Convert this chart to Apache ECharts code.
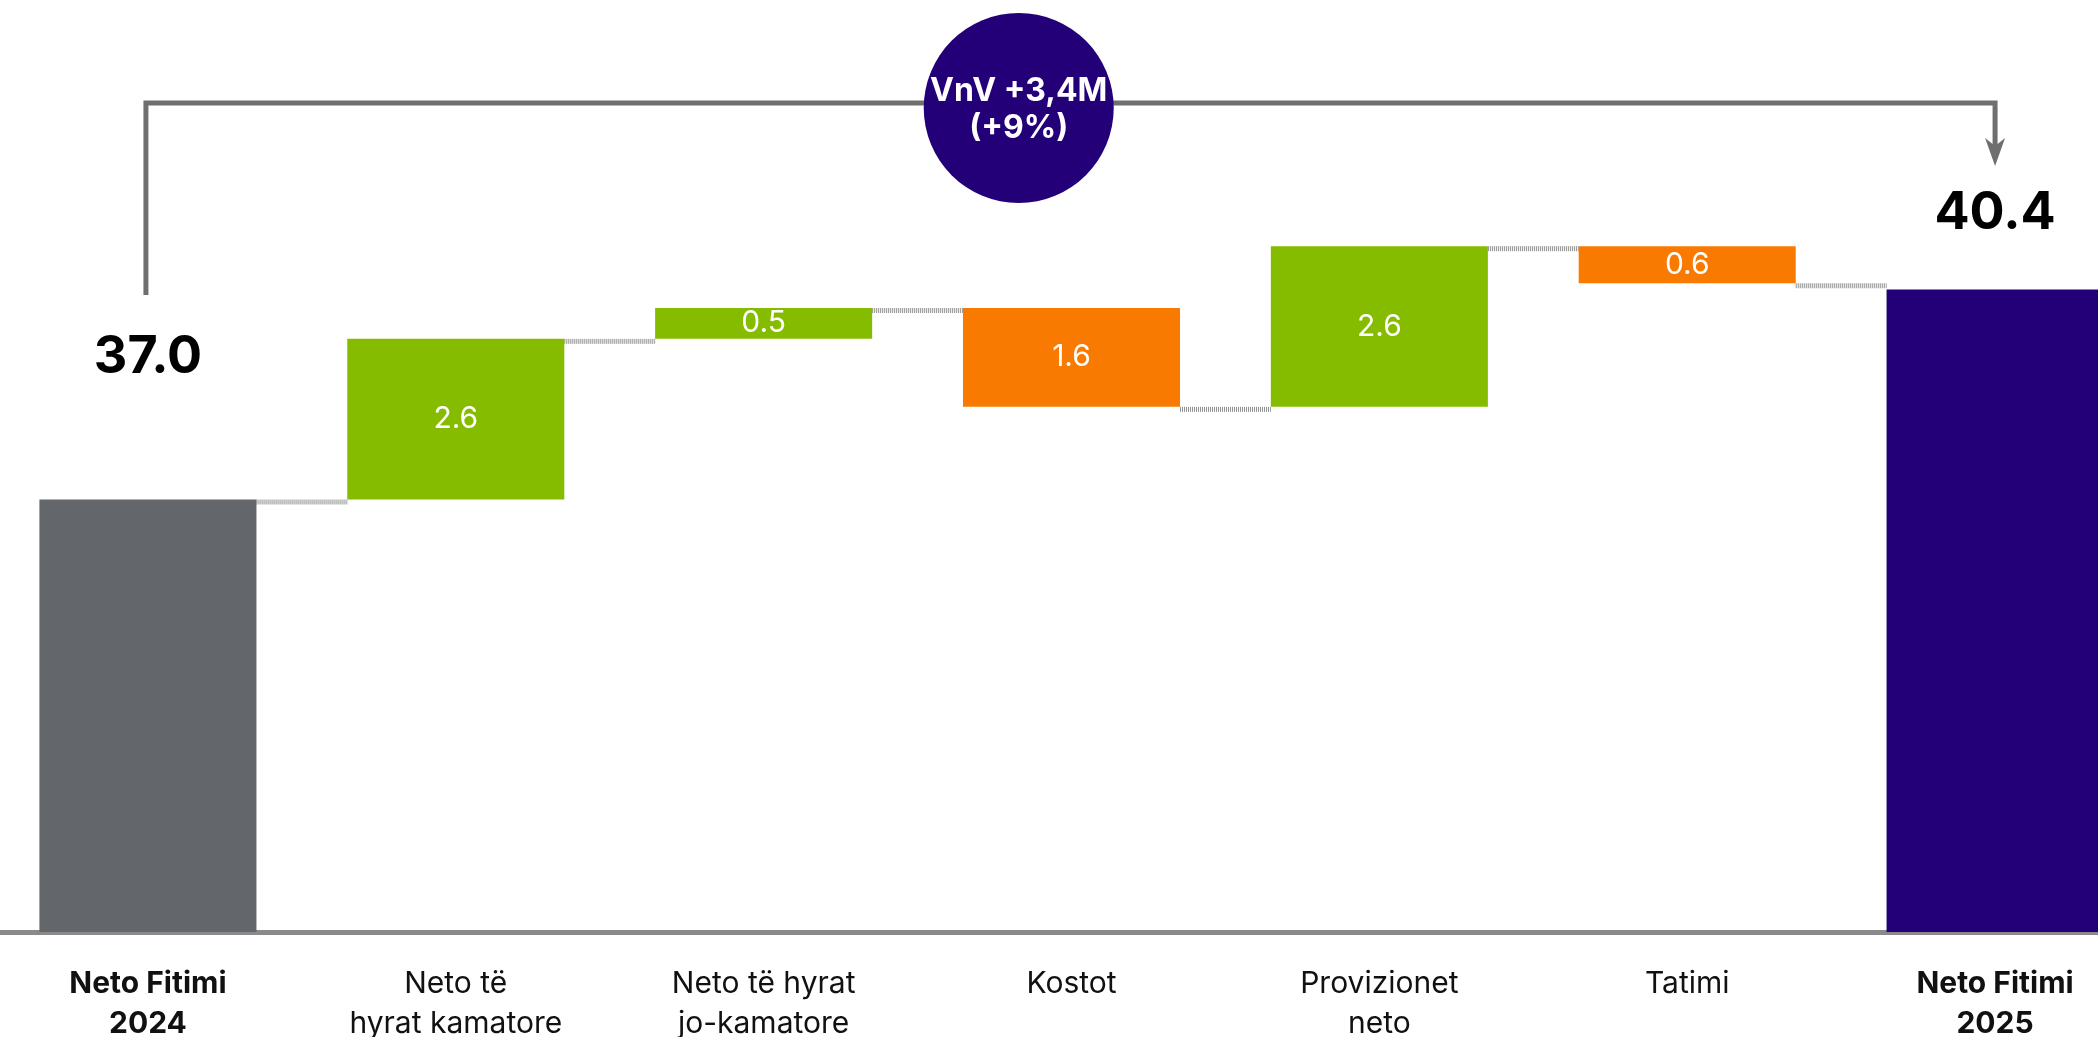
<!DOCTYPE html>
<html>
<head>
<meta charset="utf-8">
<script src="https://cdn.jsdelivr.net/npm/echarts@6/dist/echarts.min.js"></script>
<style>
  html, body { margin: 0; padding: 0; background: #ffffff; overflow: hidden; width: 2098px; height: 1037px; }
  #chart { position: absolute; left: -6px; top: 0; width: 2155px; height: 1037px; }
</style>
</head>
<body>
<div id="chart"></div>
<script>
// ---- data ----
const categories = [
  'Neto Fitimi\n2024',
  'Neto të\nhyrat kamatore',
  'Neto të hyrat\njo-kamatore',
  'Kostot',
  'Provizionet\nneto',
  'Tatimi',
  'Neto Fitimi\n2025'
];
const values = [37.0, 2.6, 0.5, -1.6, 2.6, -0.6, 40.4];
const kinds = ['total', 'up', 'up', 'down', 'up', 'down', 'total'];
const yoyText = ['VnV +3,4M', '(+9%)'];

// ---- styling ----
const FONT = 'Inter, "Noto Sans", sans-serif';
const kindColors = { total0: '#63666A', total1: '#230078', up: '#86BC00', down: '#F87A00' };

// ---- waterfall computation ----
const base = [], heights = [], levels = [];
let running = 0;
values.forEach((v, i) => {
  if (kinds[i] === 'total') {
    base.push(0); heights.push(v); running = v;
  } else if (v >= 0) {
    base.push(running); heights.push(v); running += v;
  } else {
    running += v; base.push(running); heights.push(-v);
  }
  levels.push(+running.toFixed(2));
});

const BAR_FRAC = 0.705;

const barData = values.map((v, i) => {
  let color;
  if (kinds[i] === 'total') color = i === 0 ? kindColors.total0 : kindColors.total1;
  else color = kinds[i] === 'up' ? kindColors.up : kindColors.down;
  const item = { value: heights[i], itemStyle: { color: color } };
  if (kinds[i] === 'total') {
    item.label = {
      show: true, position: 'top', distance: i === 0 ? 116 : 50,
      color: '#000', fontSize: 52, fontWeight: 'bold', fontFamily: FONT,
      formatter: () => values[i].toFixed(1)
    };
  } else {
    item.label = {
      show: true, position: 'inside', color: '#fff', fontSize: 30, fontFamily: FONT,
      formatter: () => Math.abs(values[i]).toFixed(1)
    };
  }
  return item;
});

const connectorData = levels.slice(0, -1).map((lv, i) => [i, lv]);

const chart = echarts.init(document.getElementById('chart'), null, { renderer: 'canvas' });

chart.setOption({
  backgroundColor: '#ffffff',
  animation: false,
  grid: { left: 0, right: 0, top: 67, bottom: 105, containLabel: false, outerBoundsMode: 'none' },
  xAxis: {
    type: 'category',
    data: categories,
    axisTick: { show: false },
    axisLine: { show: true, lineStyle: { color: '#8a8a8a', width: 5, cap: 'round' } },
    axisLabel: {
      interval: 0, margin: 32, fontSize: 30, lineHeight: 40, color: '#111', fontFamily: FONT,
      formatter: (val, idx) => {
        if (kinds[idx] === 'total') return val.split('\n').map(s => '{b|' + s + '}').join('\n');
        return val;
      },
      rich: { b: { fontWeight: 'bold', fontSize: 30, lineHeight: 40, color: '#111', fontFamily: FONT } }
    }
  },
  yAxis: { type: 'value', min: 30, max: 44, show: false, splitLine: { show: false } },
  series: [
    {
      name: 'base', type: 'bar', stack: 'wf', barWidth: (BAR_FRAC * 100) + '%',
      itemStyle: { color: 'rgba(0,0,0,0)' }, silent: true, data: base
    },
    {
      name: 'value', type: 'bar', stack: 'wf', barWidth: (BAR_FRAC * 100) + '%',
      data: barData, z: 3
    },
    {
      name: 'connectors', type: 'custom', z: 2, silent: true,
      data: connectorData,
      renderItem: (params, api) => {
        const i = api.value(0), lv = api.value(1);
        const p1 = api.coord([i, lv]);
        const p2 = api.coord([i + 1, lv]);
        const half = api.size([1, 0])[0] * BAR_FRAC / 2;
        return {
          type: 'line',
          shape: { x1: p1[0] + half, y1: p1[1] + 2.5, x2: p2[0] - half, y2: p1[1] + 2.5 },
          style: { stroke: '#8f8f8f', lineWidth: 5, lineDash: [1, 1] }
        };
      }
    },
    {
      name: 'yoy', type: 'custom', z: 5, silent: true,
      data: [[0, values.length - 1]],
      renderItem: (params, api) => {
        const x0 = api.coord([api.value(0), 30])[0] - 2;
        const x1 = api.coord([api.value(1), 30])[0];
        const yTop = 103, yLeftEnd = 295, yTip = 166;
        const cx = x0 + (x1 - x0) * 0.472, cy = 108, r = 95;
        const lineStyle = { stroke: '#6f6f6f', lineWidth: 5, fill: null, lineJoin: 'miter' };
        return {
          type: 'group',
          children: [
            { type: 'polyline', shape: { points: [[x0, yLeftEnd], [x0, yTop], [x1, yTop], [x1, yTip - 12]] }, style: lineStyle },
            { type: 'polygon', shape: { points: [[x1 - 10, yTip - 28], [x1, yTip - 20], [x1 + 10, yTip - 28], [x1, yTip]] }, style: { fill: '#6f6f6f' } },
            { type: 'circle', shape: { cx: cx, cy: cy, r: r }, style: { fill: '#230078' } },
            { type: 'text', style: { x: cx, y: cy - 17, text: yoyText[0], fill: '#fff', fontSize: 32, fontWeight: 'bold', fontFamily: FONT, align: 'center', verticalAlign: 'middle' } },
            { type: 'text', style: { x: cx, y: cy + 20, text: yoyText[1], fill: '#fff', fontSize: 32, fontWeight: 'bold', fontFamily: FONT, align: 'center', verticalAlign: 'middle' } }
          ]
        };
      }
    }
  ]
});
</script>
</body>
</html>
